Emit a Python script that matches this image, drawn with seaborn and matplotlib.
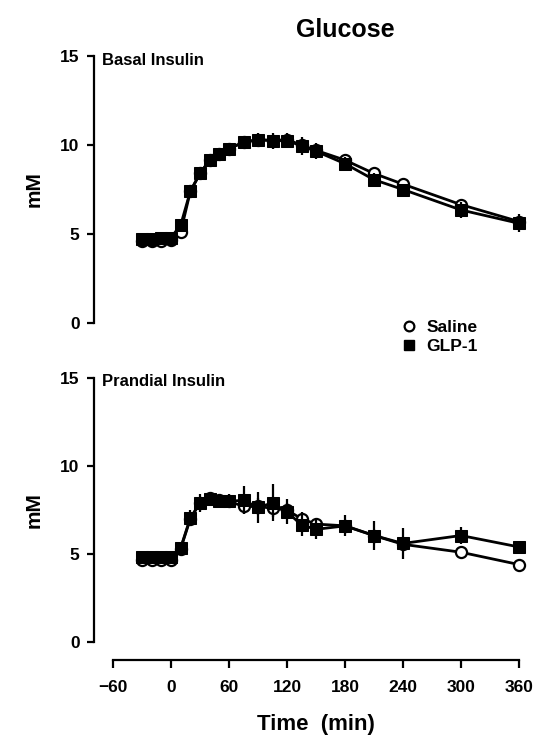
import numpy as np
import pandas as pd
import matplotlib
matplotlib.use('Agg')
import matplotlib.pyplot as plt
from matplotlib.lines import Line2D
import seaborn as sns

sns.set_style('white', {'axes.edgecolor': 'black', 'text.color': 'black',
                        'axes.labelcolor': 'black', 'xtick.color': 'black',
                        'ytick.color': 'black'})
plt.rcParams['font.family'] = ['Liberation Sans', 'DejaVu Sans']
plt.rcParams['font.weight'] = 'bold'

# ---- data ----
times = [-30, -20, -10, 0, 10, 20, 30, 40, 50, 60, 75, 90, 105, 120, 135, 150,
         180, 210, 240, 300, 360]

basal_saline = [4.6, 4.6, 4.6, 4.65, 5.1, 7.4, 8.4, 9.15, 9.5, 9.8, 10.15, 10.3,
                10.25, 10.3, 10.0, 9.7, 9.15, 8.4, 7.8, 6.65, 5.7]
basal_saline_se = [0.1, 0.1, 0.1, 0.1, 0.15, 0.2, 0.2, 0.25, 0.25, 0.25, 0.25, 0.3,
                   0.3, 0.3, 0.3, 0.3, 0.3, 0.25, 0.25, 0.3, 0.3]
basal_glp = [4.7, 4.7, 4.75, 4.8, 5.5, 7.4, 8.4, 9.15, 9.5, 9.8, 10.15, 10.3,
             10.25, 10.25, 9.95, 9.65, 8.95, 8.05, 7.5, 6.35, 5.6]
basal_glp_se = [0.15, 0.15, 0.15, 0.15, 0.2, 0.3, 0.3, 0.35, 0.3, 0.3, 0.3, 0.35,
                0.45, 0.4, 0.5, 0.45, 0.4, 0.35, 0.3, 0.45, 0.5]

prand_saline = [4.65, 4.65, 4.65, 4.65, 5.3, 7.0, 7.9, 8.2, 8.05, 8.0, 7.7, 7.7,
                7.6, 7.5, 7.0, 6.7, 6.6, 6.05, 5.55, 5.1, 4.4]
prand_saline_se = [0.1, 0.1, 0.1, 0.1, 0.15, 0.3, 0.3, 0.3, 0.3, 0.3, 0.4, 0.5,
                   0.5, 0.4, 0.4, 0.3, 0.3, 0.3, 0.3, 0.2, 0.2]
prand_glp = [4.85, 4.85, 4.85, 4.85, 5.35, 7.05, 7.9, 8.15, 8.0, 8.0, 8.05, 7.65,
             7.9, 7.4, 6.65, 6.4, 6.6, 6.05, 5.6, 6.05, 5.4]
prand_glp_se = [0.15, 0.15, 0.15, 0.15, 0.25, 0.45, 0.5, 0.4, 0.35, 0.4, 0.8, 0.9,
                1.05, 0.7, 0.6, 0.55, 0.6, 0.8, 0.9, 0.5, 0.2]

x_ticks = [-60, 0, 60, 120, 180, 240, 300, 360]
y_ticks = [0, 5, 10, 15]

W, H = 541, 741
fig = plt.figure(figsize=(W / 100, H / 100), dpi=100)
ax1 = fig.add_axes([113 / W, 1 - 323 / H, 406 / W, 267 / H])
ax2 = fig.add_axes([113 / W, 1 - 642 / H, 406 / W, 264 / H])


def draw_panel(ax, sal, sal_se, glp, glp_se, label):
    ax.errorbar(times, sal, yerr=sal_se, fmt='none', ecolor='black',
                elinewidth=1.6, capsize=0, zorder=2, clip_on=False)
    sns.lineplot(x=times, y=sal, ax=ax, color='black', lw=2, marker='o',
                 markersize=8, markerfacecolor='white', markeredgecolor='black',
                 markeredgewidth=1.6, clip_on=False, zorder=3, legend=False)
    ax.errorbar(times, glp, yerr=glp_se, fmt='none', ecolor='black',
                elinewidth=1.6, capsize=0, zorder=4, clip_on=False)
    sns.lineplot(x=times, y=glp, ax=ax, color='black', lw=2, marker='s',
                 markersize=8, markerfacecolor='black', markeredgecolor='black',
                 clip_on=False, zorder=5, legend=False)

    ax.set_xlim(-60, 360)
    ax.set_ylim(0, 15)
    ax.set_yticks(y_ticks)
    ax.set_ylabel('mM', fontsize=15, fontweight='bold', labelpad=12)
    ax.spines['top'].set_visible(False)
    ax.spines['right'].set_visible(False)
    ax.spines['left'].set_position(('outward', 14))
    ax.spines['left'].set_linewidth(1.6)
    ax.tick_params(axis='y', left=True, direction='out', length=5, width=1.6,
                   pad=5, labelsize=12.5)
    ax.text(-0.028, 0.985, label, transform=ax.transAxes, ha='left',
            va='center', fontsize=12, fontweight='bold')


draw_panel(ax1, basal_saline, basal_saline_se, basal_glp, basal_glp_se,
           'Basal Insulin')
draw_panel(ax2, prand_saline, prand_saline_se, prand_glp, prand_glp_se,
           'Prandial Insulin')

ax1.spines['bottom'].set_visible(False)
ax1.set_xticks([])
ax1.set_xlabel('')

ax2.spines['bottom'].set_position(('outward', 13))
ax2.spines['bottom'].set_linewidth(1.6)
ax2.set_xticks(x_ticks)
ax2.set_xticklabels([str(v).replace('-', '\u2212') for v in x_ticks])
ax2.tick_params(axis='x', bottom=True, direction='out', length=6, width=1.6,
                pad=8, labelsize=12.5)
ax2.set_xlabel('Time  (min)', fontsize=16, fontweight='bold', labelpad=14)

fig.text(345 / W, 1 - 30 / H, 'Glucose', ha='center', va='center',
         fontsize=18, fontweight='bold')

handles = [
    Line2D([], [], ls='none', marker='o', markersize=7, markerfacecolor='white',
           markeredgecolor='black', markeredgewidth=1.6, label='Saline'),
    Line2D([], [], ls='none', marker='s', markersize=7, color='black',
           label='GLP-1'),
]
fig.legend(handles=handles, loc='upper left',
           bbox_to_anchor=(392 / W, 1 - 311 / H), frameon=False,
           prop={'size': 12.5, 'weight': 'bold'}, handlelength=1.0,
           handletextpad=0.5, labelspacing=0.25, borderpad=0)

fig.savefig('out.png', dpi=100)
